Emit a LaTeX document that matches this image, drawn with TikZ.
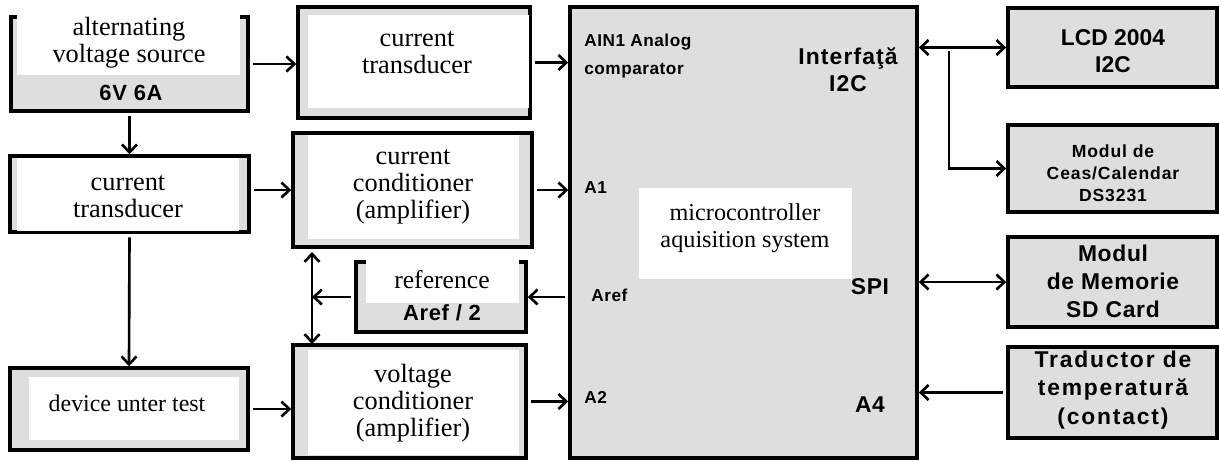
\documentclass[tikz,border=0pt]{standalone}
\usepackage{fontspec}
\setmainfont{Liberation Serif}
\setsansfont{Liberation Sans}
\newfontfamily\lblfont{Liberation Sans}[LetterSpace=3]
\usetikzlibrary{arrows.meta}
\definecolor{boxgray}{HTML}{DEDEDE}
\begin{document}
\begin{tikzpicture}[x=0.02cm, y=-0.02cm,
  blk/.style={draw, line width=2pt, fill=boxgray, inner sep=0pt},
  txt/.style={align=center, inner sep=0pt, font=\fontsize{15}{15.5}\selectfont},
  lbl/.style={align=center, inner sep=0pt, font=\lblfont\bfseries\fontsize{13}{16}\selectfont},
  pin/.style={align=left, anchor=west, inner sep=0pt, font=\lblfont\bfseries\fontsize{9.8}{16}\selectfont},
  arr/.style={line width=1.5pt, shorten <=2pt, -{Straight Barb[length=4.5pt,width=8.5pt]}},
  barr/.style={line width=1.5pt, {Straight Barb[length=4.5pt,width=8.5pt]}-{Straight Barb[length=4.5pt,width=8.5pt]}}]
\useasboundingbox (0,0) rectangle (1219,461);
% left column
\node[blk, minimum width=4.74cm, minimum height=1.88cm] (vs) at (129.5,64) {};
\fill[white] (17,12) rectangle (240,75);
\node[txt] (vsName) at (129,42.5) {alternating\\voltage source};
\node[lbl, font=\lblfont\bfseries\fontsize{12.5}{14}\selectfont] (vsVal) at (131,93) {6V 6A};
\node[blk, minimum width=4.78cm, minimum height=1.52cm] (ct2) at (129.5,194) {};
\fill[white] (17,158) rectangle (239,231);
\node[txt] (ct2Name) at (128,197) {current\\transducer};
\node[blk, minimum width=4.76cm, minimum height=1.64cm] (dut) at (129,409) {};
\fill[white] (29,377) rectangle (239,440);
\node[txt, font=\fontsize{13.6}{15}\selectfont] (dutName) at (127,403) {device unter test};
% middle column
\node[blk, minimum width=4.64cm, minimum height=2.22cm] (ct) at (414,62.5) {};
\fill[white] (308,15) rectangle (529,108);
\node[txt] (ctName) at (417,53) {current\\transducer};
\node[blk, minimum width=4.78cm, minimum height=2.28cm] (cc) at (412.5,190) {};
\fill[white] (308,135) rectangle (519,239);
\node[txt] (ccName) at (413,187) {current\\conditioner\\(amplifier)};
\node[blk, minimum width=3.4cm, minimum height=1.4cm] (ref) at (441,297) {};
\fill[white] (366,255) rectangle (519,303);
\node[txt, font=\fontsize{14.6}{15}\selectfont] (refName) at (442,280) {reference};
\node[lbl, font=\lblfont\bfseries\fontsize{12.5}{14}\selectfont] (refVal) at (442,313) {Aref / 2};
\node[blk, minimum width=4.66cm, minimum height=2.26cm] (vc) at (409.5,401.5) {};
\fill[white] (308,350) rectangle (519,455);
\node[txt] (vcName) at (413,403) {voltage\\conditioner\\(amplifier)};
% microcontroller
\node[blk, minimum width=6.94cm, minimum height=9.02cm] (mc) at (743.5,232.5) {};
\fill[white] (639,188) rectangle (852,279);
\node[txt, font=\fontsize{13.8}{15.4}\selectfont] (mcName) at (745,228) {microcontroller\\aquisition system};
\node[pin] (pAin) at (584,56) {AIN1 Analog\\comparator};
\node[pin] (pA1) at (584,188) {A1};
\node[pin] (pAref) at (591,295) {Aref};
\node[pin] (pA2) at (584,397) {A2};
\node[lbl, font=\lblfont\bfseries\fontsize{13}{15.5}\selectfont\addfontfeature{LetterSpace=5}] (pI2c) at (848,70) {Interfaţă\\I2C};
\node[lbl] (pSpi) at (870,287) {SPI};
\node[lbl] (pA4) at (870,405) {A4};
% right column
\node[blk, minimum width=4.18cm, minimum height=1.58cm] (lcd) at (1112.5,47.5) {};
\node[lbl, font=\lblfont\bfseries\fontsize{13}{15.5}\selectfont\addfontfeature{LetterSpace=0}] (lcdName) at (1113,51) {LCD 2004\\I2C};
\node[blk, minimum width=4.18cm, minimum height=1.74cm] (rtc) at (1112.5,168.5) {};
\node[lbl, font=\lblfont\bfseries\fontsize{10}{12.5}\selectfont\addfontfeature{LetterSpace=5}] (rtcName) at (1113,173) {Modul de\\Ceas/Calendar\\DS3231};
\node[blk, minimum width=4.18cm, minimum height=1.8cm] (sd) at (1112.5,282) {};
\node[lbl] (sdName) at (1113,281) {Modul\\de Memorie\\SD Card};
\node[blk, minimum width=4.18cm, minimum height=1.82cm] (tmp) at (1112.5,392.5) {};
\node[lbl, font=\lblfont\bfseries\fontsize{13}{16}\selectfont\addfontfeature{LetterSpace=8}] (tmpName) at (1113,390) {Traductor de\\temperatură\\(contact)};
% connectors
\coordinate (bus) at (312,297);
\coordinate (busTop) at (312,252);
\coordinate (busBot) at (312,344);
\coordinate (jn) at (949,47.5);
\draw[arr] (vs.east) -- (vs.east -| ct.west);
\draw[arr] (ct.east) -- (ct.east -| mc.west);
\draw[arr] (vs.south) -- (ct2.north);
\draw[arr] (ct2.south) -- (dut.north);
\draw[arr] (ct2.east |- cc.west) -- (cc.west);
\draw[arr] (cc.east) -- (cc.east -| mc.west);
\draw[arr] (ref.east -| mc.west) -- (ref.east);
\draw[arr] (ref.west) -- (bus);
\draw[barr] (busTop) -- (busBot);
\draw[arr] (dut.east) -- (dut.east -| vc.west);
\draw[arr] (vc.east) -- (vc.east -| mc.west);
\draw[barr] (lcd.west -| mc.east) -- (lcd.west);
\draw[arr] (jn) |- (rtc.west);
\draw[barr] (sd.west -| mc.east) -- (sd.west);
\draw[arr] (tmp.west) -- (tmp.west -| mc.east);
\end{tikzpicture}
\end{document}
